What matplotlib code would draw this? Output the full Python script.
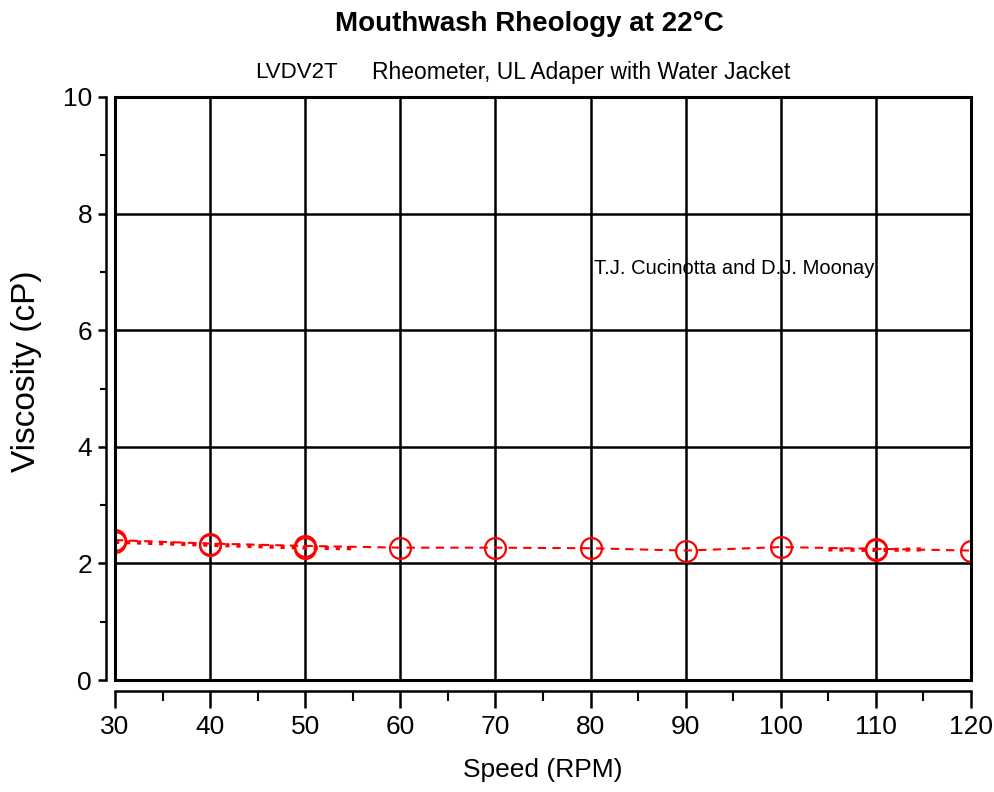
import numpy as np
import matplotlib
matplotlib.use("Agg")
import matplotlib.pyplot as plt
from matplotlib.patches import Rectangle
from matplotlib.ticker import MultipleLocator

# --- data ---
speed = [30, 40, 50, 60, 70, 80, 90, 100, 110, 120]
viscosity = [2.40, 2.34, 2.30, 2.27, 2.27, 2.26, 2.22, 2.28, 2.25, 2.22]

# repeated readings (overlapping markers)
speed_rep = [30, 40, 50, 55]
viscosity_rep = [2.37, 2.32, 2.27, 2.26]
speed_rep2 = [105, 110, 115]
viscosity_rep2 = [2.24, 2.23, 2.24]
speed_rep_pts = [30, 40, 50, 110]
viscosity_rep_pts = [2.37, 2.32, 2.27, 2.23]

x_ticks = np.arange(30, 121, 10)
y_ticks = np.arange(0, 11, 2)

sans = ['Liberation Sans', 'DejaVu Sans']

fig = plt.figure(figsize=(9.94, 7.92), dpi=100)
ax = fig.add_axes([115/994, 1 - 680/792, (971-115)/994, (680-97)/792])

ax.plot(speed, viscosity, color='red', linestyle=(0, (4, 3)), linewidth=1.5,
        marker='o', markersize=15, markerfacecolor='none',
        markeredgecolor='red', markeredgewidth=1.6, zorder=4)
ax.plot(speed_rep, viscosity_rep, color='red', linestyle=':', linewidth=3,
        zorder=4)
ax.plot(speed_rep2, viscosity_rep2, color='red', linestyle=':', linewidth=3,
        zorder=4)
ax.plot(speed_rep_pts, viscosity_rep_pts, linestyle='none', marker='o',
        markersize=15, markerfacecolor='none', markeredgecolor='red',
        markeredgewidth=1.6, zorder=4)

ax.set_xlim(30, 120)
ax.set_ylim(0, 10)
ax.set_xticks(x_ticks)
ax.set_yticks(y_ticks)
ax.xaxis.set_minor_locator(MultipleLocator(5))
ax.yaxis.set_minor_locator(MultipleLocator(1))

ax.grid(True, which='major', color='black', linewidth=1.8)

# frame of the plotting box
ax.add_patch(Rectangle((0, 0), 1, 1, transform=ax.transAxes, fill=False,
                       edgecolor='black', linewidth=2.2, zorder=5, clip_on=False))

ax.spines['top'].set_visible(False)
ax.spines['right'].set_visible(False)
ax.spines['left'].set_position(('outward', 6.5))
ax.spines['bottom'].set_position(('outward', 8))
ax.spines['left'].set_linewidth(1.8)
ax.spines['bottom'].set_linewidth(1.8)

ax.tick_params(axis='x', which='major', length=12, width=1.8, pad=5)
ax.tick_params(axis='x', which='minor', length=7, width=1.5)
ax.tick_params(axis='y', which='major', length=6, width=1.8, pad=4)
ax.tick_params(axis='y', which='minor', length=4, width=1.5)
for lab in ax.get_xticklabels() + ax.get_yticklabels():
    lab.set_family(sans)
    lab.set_fontsize(19)

ax.set_xlabel('Speed (RPM)', family=sans, fontsize=19, labelpad=14)
ax.set_ylabel('Viscosity (cP)', family=sans, fontsize=24)
ax.yaxis.set_label_coords(-0.085, 0.53)

fig.text(0.533, 0.970, 'Mouthwash Rheology at 22°C', family=sans,
         fontsize=20, fontweight='bold', ha='center', va='center')
fig.text(0.257, 0.909, 'LVDV2T', family=sans, fontsize=16,
         ha='left', va='center')
fig.text(0.374, 0.909, 'Rheometer, UL Adaper with Water Jacket',
         family=sans, fontsize=16.5, ha='left', va='center')
ax.text(0.56, 0.705, 'T.J. Cucinotta and D.J. Moonay', transform=ax.transAxes,
        family=sans, fontsize=14.5, ha='left', va='center')

fig.savefig('out.png', dpi=100)
